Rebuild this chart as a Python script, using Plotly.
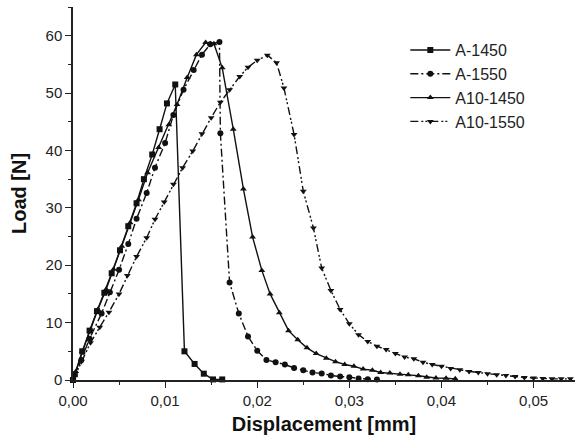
import plotly.graph_objects as go

series_names = ["A-1450", "A-1550", "A10-1450", "A10-1550"]

a1450_x = [0.0, 0.0002, 0.0010, 0.0018, 0.0026, 0.0034, 0.0042, 0.0051, 0.0060, 0.0069,
           0.0077, 0.0086, 0.0094, 0.0102, 0.0111, 0.0121, 0.0132, 0.0142, 0.0152, 0.0162]
a1450_y = [0.0, 1.0, 5.0, 8.6, 12.0, 15.2, 18.6, 22.6, 26.8, 30.8,
           35.0, 39.3, 43.7, 48.2, 51.5, 5.0, 2.8, 1.1, 0.1, 0.1]

a1550_x = [0.0, 0.0009, 0.0018, 0.0031, 0.0040, 0.0050, 0.0060, 0.0069, 0.0080, 0.0089,
           0.0100, 0.0109, 0.0120, 0.0131, 0.0140, 0.0149, 0.0159, 0.0160, 0.0170, 0.0180,
           0.0190, 0.0200, 0.0210, 0.0220, 0.0230, 0.0240, 0.0250, 0.0260, 0.0270, 0.0280,
           0.0290, 0.0300, 0.0310, 0.0320, 0.0330]
a1550_y = [0.0, 3.5, 7.2, 11.6, 15.3, 19.2, 23.7, 28.1, 32.6, 37.0,
           41.3, 46.2, 50.6, 54.0, 56.7, 58.5, 58.9, 43.0, 17.0, 11.6,
           7.6, 5.1, 3.5, 3.1, 2.7, 2.1, 1.7, 1.3, 1.15, 0.8,
           0.6, 0.5, 0.25, 0.15, 0.1]

a10_1450_x = [0.0, 0.0003, 0.0010, 0.0019, 0.0027, 0.0036, 0.0044, 0.0053, 0.0062, 0.0071,
              0.0081, 0.0093, 0.0104, 0.0113, 0.0124, 0.0134, 0.0144, 0.0149, 0.0153, 0.0162,
              0.0174, 0.0185, 0.0195, 0.0205, 0.0214, 0.0224, 0.0234, 0.0244, 0.0254, 0.0264,
              0.0275, 0.0285, 0.0295, 0.0305, 0.0315, 0.0325, 0.0334, 0.0344, 0.0355, 0.0364,
              0.0375, 0.0384, 0.0394, 0.0405, 0.0415]
a10_1450_y = [0.0, 1.5, 5.0, 8.8, 12.3, 15.8, 19.3, 23.3, 27.4, 31.4,
              36.1, 40.5, 44.5, 48.0, 52.7, 56.7, 58.8, 58.6, 58.6, 54.4,
              43.7, 33.3, 24.9, 19.1, 15.0, 11.7, 8.6, 7.0, 5.6, 4.6,
              3.8, 3.2, 2.7, 2.4, 1.9, 1.7, 1.3, 1.2, 1.0, 0.9,
              0.75, 0.5, 0.35, 0.3, 0.2]

a10_1550_x = [0.0, 0.0009, 0.0019, 0.0029, 0.0039, 0.0050, 0.0059, 0.0069, 0.0080, 0.0089,
              0.0099, 0.0109, 0.0119, 0.0130, 0.0140, 0.0150, 0.0160, 0.0170, 0.0181, 0.0190,
              0.0200, 0.0211, 0.0221, 0.0229, 0.0240, 0.0250, 0.0261, 0.0270, 0.0280, 0.0290,
              0.0300, 0.0310, 0.0320, 0.0330, 0.0340, 0.0350, 0.0360, 0.0370, 0.0380, 0.0390,
              0.0400, 0.0410, 0.0420, 0.0430, 0.0440, 0.0450, 0.0460, 0.0470, 0.0480, 0.0490,
              0.0500, 0.0510, 0.0520, 0.0530, 0.0540]
a10_1550_y = [0.0, 3.2, 6.5, 9.2, 11.8, 15.0, 18.2, 21.5, 24.8, 28.0,
              31.0, 34.1, 37.0, 39.9, 42.9, 45.7, 48.4, 50.6, 52.9, 54.5,
              55.7, 56.6, 55.3, 50.9, 42.8, 32.9, 26.5, 19.5, 15.6, 12.3,
              9.8, 7.9, 6.7, 5.9, 5.3, 4.6, 4.0, 3.7, 3.1, 2.7,
              2.4, 2.0, 1.8, 1.5, 1.3, 1.1, 0.9, 0.8, 0.6, 0.45,
              0.35, 0.25, 0.2, 0.2, 0.2]

x_ticks = [0.0, 0.01, 0.02, 0.03, 0.04, 0.05]
y_ticks = [0, 10, 20, 30, 40, 50, 60]

ink = "#111111"
font_family = "Liberation Sans, Arial, sans-serif"
styles = [
    ("solid", "square"),
    ("8px,3px,2px,3px", "circle"),
    ("solid", "triangle-up"),
    ("8px,3px,2px,2px,2px,3px", "triangle-down"),
]
data = [(a1450_x, a1450_y), (a1550_x, a1550_y), (a10_1450_x, a10_1450_y), (a10_1550_x, a10_1550_y)]

fig = go.Figure()
for name, (xs, ys), (dash, sym) in zip(series_names, data, styles):
    fig.add_trace(go.Scatter(
        x=xs, y=ys, name=name, mode="lines+markers",
        line=dict(color=ink, width=1.4, dash=dash),
        marker=dict(symbol=sym, size=6, color=ink),
        cliponaxis=False,
    ))

axis_common = dict(
    showline=True, linecolor="#222", linewidth=1.5,
    ticks="outside", ticklen=6, tickwidth=1.3, tickcolor="#222",
    showgrid=False, zeroline=False, mirror=False, automargin=False,
    tickfont=dict(family=font_family, size=15, color="#222"),
)

fig.update_xaxes(
    range=[0, 0.0545], tickvals=x_ticks, tickformat=".2f",
    minor=dict(ticks="outside", ticklen=3, tickwidth=1.2, tickcolor="#222", dtick=0.005, tick0=0),
    title=dict(text="<b>Displacement [mm]</b>", standoff=9,
               font=dict(family=font_family, size=20, color="#111")),
    **axis_common,
)
fig.update_yaxes(
    range=[0, 65], tickvals=y_ticks,
    minor=dict(ticks="outside", ticklen=3, tickwidth=1.2, tickcolor="#222", dtick=5, tick0=0),
    title=dict(text="<b>Load [N]</b>", standoff=14,
               font=dict(family=font_family, size=20, color="#111")),
    **axis_common,
)

fig.update_layout(
    width=577, height=443,
    margin=dict(l=73, r=2, t=7, b=63),
    paper_bgcolor="white", plot_bgcolor="white",
    separators=", ",
    showlegend=True,
    legend=dict(x=0.662, y=0.93, xanchor="left", yanchor="top",
                bgcolor="rgba(0,0,0,0)",
                font=dict(family=font_family, size=16, color="#222"),
                itemwidth=40, tracegroupgap=0),
)

fig.write_html("out.html", config={"displayModeBar": False},
               post_script="document.body.style.margin='0';")
